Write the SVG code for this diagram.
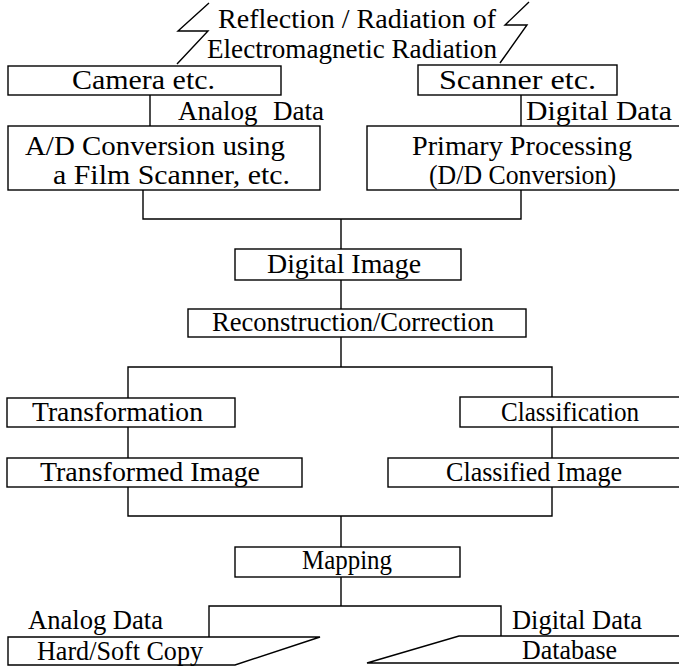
<svg xmlns="http://www.w3.org/2000/svg" width="679" height="668" viewBox="0 0 679 668">
<style>
.b{fill:#fff;stroke:#000;stroke-width:1.4}
.c{fill:none;stroke:#000;stroke-width:1.4}
text{font-family:"Liberation Serif","Times New Roman",serif;font-size:27px;fill:#000}
</style>
<rect width="679" height="668" fill="#fff"/>
<g id="source">
<path class="c" d="M209,3 L178,31 L208,31 L177,64"/>
<path class="c" d="M529,2 L505,25 L527,25 L500,63"/>
<text x="218" y="28" textLength="278" lengthAdjust="spacingAndGlyphs">Reflection / Radiation of</text>
<text x="207" y="58" textLength="290" lengthAdjust="spacingAndGlyphs">Electromagnetic Radiation</text>
</g>
<g id="connectors">
<path class="c" d="M150,95 V126"/>
<path class="c" d="M521,95 V126"/>
<path class="c" d="M143,190 V219 H521 V190 M341,219 V249"/>
<path class="c" d="M341,280 V309"/>
<path class="c" d="M341,337 V367 M128,398 V367 H552 V397"/>
<path class="c" d="M128,427 V458"/>
<path class="c" d="M552,427 V458"/>
<path class="c" d="M128,487 V516 H552 V487 M341,516 V547"/>
<path class="c" d="M341,577 V606 M209,637 V606 H501 V636"/>
<text x="178" y="120">Analog<tspan x="273">Data</tspan></text>
<text x="526" y="120" textLength="146" lengthAdjust="spacingAndGlyphs">Digital Data</text>
<text x="28" y="629" textLength="135" lengthAdjust="spacingAndGlyphs">Analog Data</text>
<text x="512" y="629" textLength="130" lengthAdjust="spacingAndGlyphs">Digital Data</text>
</g>
<g id="camera">
<rect class="b" x="8" y="66" width="273" height="29"/>
<text x="72" y="89" textLength="143" lengthAdjust="spacingAndGlyphs">Camera etc.</text>
</g>
<g id="scanner">
<rect class="b" x="418" y="65" width="199" height="30"/>
<text x="439" y="89" textLength="157" lengthAdjust="spacingAndGlyphs">Scanner etc.</text>
</g>
<g id="ad-conversion">
<rect class="b" x="8" y="126" width="312" height="64"/>
<text x="25" y="155" textLength="260" lengthAdjust="spacingAndGlyphs">A/D Conversion using</text>
<text x="53" y="184" textLength="237" lengthAdjust="spacingAndGlyphs">a Film Scanner, etc.</text>
</g>
<g id="primary-processing">
<rect class="b" x="367" y="126" width="320" height="64"/>
<text x="412" y="155" textLength="220" lengthAdjust="spacingAndGlyphs">Primary Processing</text>
<text x="429" y="184" textLength="187" lengthAdjust="spacingAndGlyphs">(D/D Conversion)</text>
</g>
<g id="digital-image">
<rect class="b" x="235" y="249" width="226" height="31"/>
<text x="267" y="273" textLength="154" lengthAdjust="spacingAndGlyphs">Digital Image</text>
</g>
<g id="reconstruction">
<rect class="b" x="188" y="309" width="338" height="28"/>
<text x="212" y="331" textLength="282" lengthAdjust="spacingAndGlyphs">Reconstruction/Correction</text>
</g>
<g id="transformation">
<rect class="b" x="7" y="398" width="228" height="29"/>
<text x="32" y="421" textLength="171" lengthAdjust="spacingAndGlyphs">Transformation</text>
</g>
<g id="classification">
<rect class="b" x="460" y="397" width="227" height="30"/>
<text x="501" y="421" textLength="138" lengthAdjust="spacingAndGlyphs">Classification</text>
</g>
<g id="transformed-image">
<rect class="b" x="7" y="458" width="295" height="29"/>
<text x="40" y="481" textLength="220" lengthAdjust="spacingAndGlyphs">Transformed Image</text>
</g>
<g id="classified-image">
<rect class="b" x="388" y="458" width="299" height="29"/>
<text x="446" y="481" textLength="176" lengthAdjust="spacingAndGlyphs">Classified Image</text>
</g>
<g id="mapping">
<rect class="b" x="235" y="547" width="225" height="30"/>
<text x="302" y="569" textLength="90" lengthAdjust="spacingAndGlyphs">Mapping</text>
</g>
<g id="hard-soft-copy">
<path class="b" d="M8,637 H320 L235,665 H8 Z"/>
<text x="37" y="660" textLength="166" lengthAdjust="spacingAndGlyphs">Hard/Soft Copy</text>
</g>
<g id="database">
<path class="b" d="M459,636 H687 V663 H367 Z"/>
<text x="522" y="659" textLength="95" lengthAdjust="spacingAndGlyphs">Database</text>
</g>
</svg>
